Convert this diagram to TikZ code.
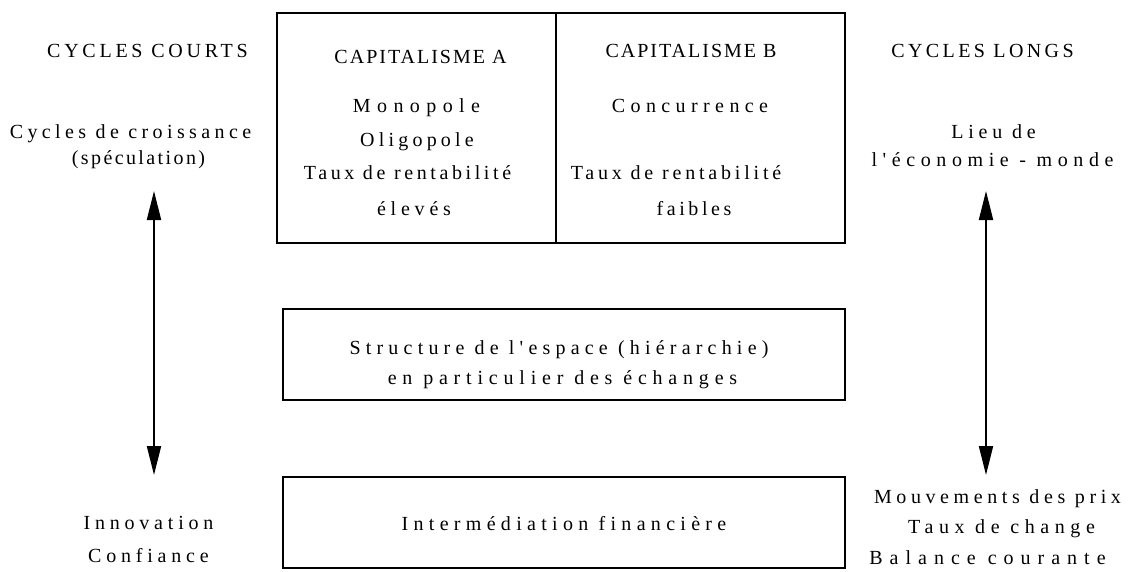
\documentclass[tikz,border=0pt]{standalone}
\usepackage{fontspec}
\setmainfont{Liberation Serif}
\newfontfamily\trackfont{Liberation Serif}
\usetikzlibrary{arrows.meta}
\begin{document}
\begin{tikzpicture}[x=1pt,y=-1pt,
  txt/.style={anchor=base, inner sep=0pt, font=\trackfont\fontsize{20}{20}\selectfont\addfontfeature{LetterSpace=#1}},
  txt/.default=20,
  box/.style={draw, line width=2.5pt, inner sep=0pt},
  dbl/.style={line width=2pt, {Triangle[length=29pt,width=14pt]}-{Triangle[length=29pt,width=14pt]}}]
\useasboundingbox (0,0) rectangle (1139,571);
% boxes
\node[box, minimum width=568pt, minimum height=230pt] (capbox) at (561,128) {};
\coordinate (divtop) at (556,13);
\coordinate (divbot) at (556,243);
\draw[line width=2pt] (divtop) -- (divbot);
\node[box, minimum width=562pt, minimum height=91pt] (spacebox) at (564,354.5) {};
\node[box, minimum width=562pt, minimum height=91pt] (finbox) at (564,522.5) {};
% headings
\node[txt=18.7] (cc) at (147.5,57.5) {CYCLES COURTS};
\node[txt=10] (capA) at (420.5,63.5) {CAPITALISME A};
\node[txt=10] (capB) at (691,57) {CAPITALISME B};
\node[txt=17] (cl) at (982.5,57.5) {CYCLES LONGS};
% left column
\node[txt=22] (cyc1) at (130.5,138) {Cycles de croissance};
\node[txt=12] (cyc2) at (138.5,164) {(spéculation)};
\node[txt=24] (inno) at (148.5,529.5) {Innovation};
\node[txt=24] (conf) at (148.5,562.5) {Confiance};
% right column
\node[txt=24] (lieu1) at (993.5,138) {Lieu de};
\node[txt=28] (lieu2) at (992.5,166) {l'économie - monde};
\node[txt=23] (mvt) at (997.5,503.5) {Mouvements des prix};
\node[txt=28] (chg) at (1001.5,533.5) {Taux de change};
\node[txt=35] (bal) at (987.5,564) {Balance courante};
% capitalism A
\node[txt=32] (mono) at (416.5,112.5) {Monopole};
\node[txt=21] (oligo) at (417,146.5) {Oligopole};
\node[txt=18] (tauxA) at (407.5,179.5) {Taux de rentabilité};
\node[txt=24] (elev) at (414,215) {élevés};
% capitalism B
\node[txt=27] (conc) at (690,112.5) {Concurrence};
\node[txt=19] (tauxB) at (676,179.5) {Taux de rentabilité};
\node[txt=18] (faib) at (694,215) {faibles};
% middle boxes
\node[txt=26] (struct1) at (559,354.5) {Structure de l'espace (hiérarchie)};
\node[txt=29] (struct2) at (562.5,384.5) {en particulier des échanges};
\node[txt=26.5] (inter) at (564,530.5) {Intermédiation financière};
% arrows
\coordinate (lt) at (154,191);
\coordinate (lb) at (154,475);
\coordinate (rt) at (986,191);
\coordinate (rb) at (986,475);
\draw[dbl] (lt) -- (lb);
\draw[dbl] (rt) -- (rb);
\end{tikzpicture}
\end{document}
